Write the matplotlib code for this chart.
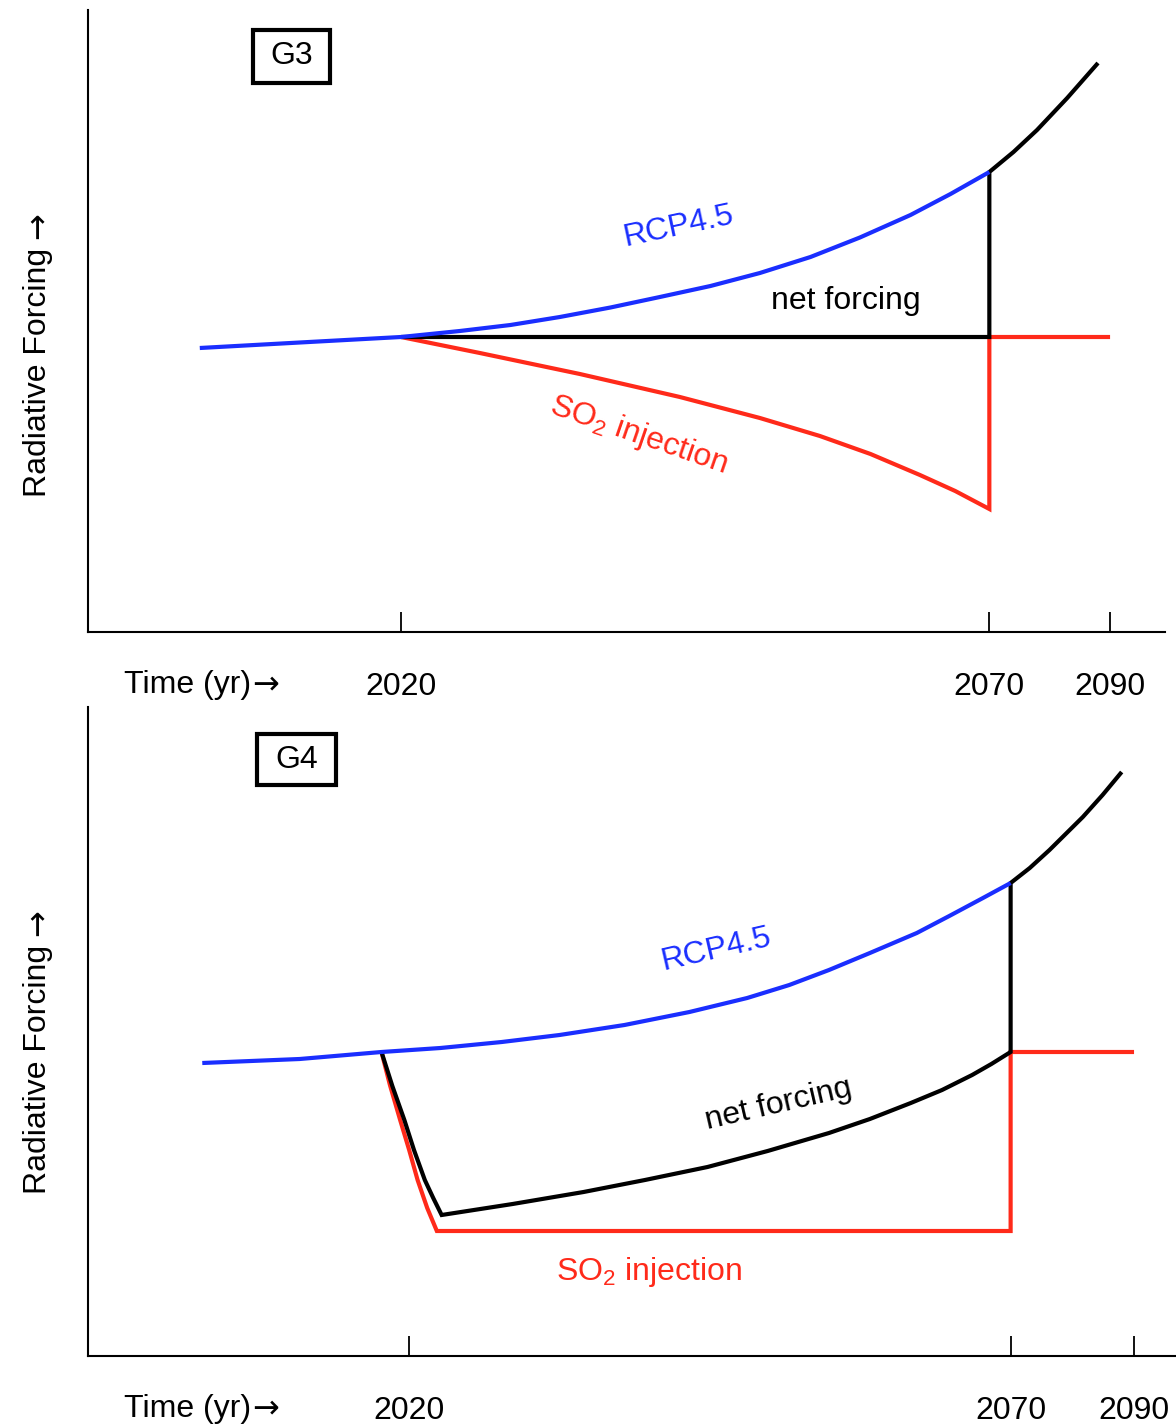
import numpy as np
import matplotlib
matplotlib.use("Agg")
import matplotlib.pyplot as plt
from matplotlib.patches import Rectangle
from matplotlib.ticker import NullLocator

plt.rcParams['font.family'] = ['Liberation Sans', 'DejaVu Sans']
plt.rcParams['mathtext.fontset'] = 'custom'
plt.rcParams['mathtext.rm'] = 'Liberation Sans'
plt.rcParams['mathtext.it'] = 'Liberation Sans:italic'
plt.rcParams['mathtext.bf'] = 'Liberation Sans:bold'

BLUE = '#1a2eff'
RED = '#ff2a1a'
BLACK = 'black'

# ---------------- G3 panel (schematic forcing, arbitrary units) ----------------
g3_rcp_years = [2002.9, 2011.4, 2020.0, 2025.0, 2029.3, 2033.5, 2037.8, 2042.0,
                2046.3, 2050.5, 2054.8, 2059.0, 2063.3, 2066.7, 2070.0]
g3_rcp_vals = [-0.11, -0.055, 0.00, 0.06, 0.12, 0.20, 0.295, 0.40,
               0.51, 0.64, 0.80, 0.995, 1.22, 1.43, 1.65]

g3_net_years = [2020.0, 2070.0, 2070.0, 2074.0, 2077.9, 2082.9, 2088.0]
g3_net_vals = [0.00, 0.00, 1.65, 1.85, 2.07, 2.39, 2.74]

g3_so2_years = [2020.0, 2026.7, 2035.2, 2043.7, 2050.5, 2055.6, 2059.9, 2064.1,
                2067.1, 2070.0, 2070.0, 2090.0]
g3_so2_vals = [0.00, -0.16, -0.37, -0.60, -0.81, -0.99, -1.17, -1.38,
               -1.54, -1.72, 0.00, 0.00]

# ---------------- G4 panel ----------------
g4_rcp_years = [2002.8, 2010.9, 2017.7, 2022.6, 2027.7, 2032.5, 2037.9, 2043.3,
                2048.1, 2051.6, 2054.9, 2058.3, 2062.2, 2064.9, 2067.7, 2070.0]
g4_rcp_vals = [-0.11, -0.07, 0.00, 0.04, 0.10, 0.17, 0.27, 0.40,
               0.54, 0.67, 0.82, 0.99, 1.19, 1.36, 1.54, 1.69]

g4_net_years = [2017.7, 2018.6, 2019.6, 2020.4, 2021.3, 2022.0, 2022.7, 2028.6,
                2034.5, 2039.6, 2044.8, 2049.8, 2054.9, 2058.3, 2061.7, 2064.3,
                2066.8, 2068.4, 2070.0, 2070.0, 2073.1, 2076.3, 2081.7, 2084.9,
                2088.0]
g4_net_vals = [0.00, -0.34, -0.68, -0.98, -1.28, -1.46, -1.63, -1.52,
               -1.40, -1.28, -1.15, -0.99, -0.81, -0.67, -0.51, -0.38,
               -0.23, -0.12, 0.00, 1.69, 1.84, 2.02, 2.35, 2.57,
               2.80]

g4_so2_years = [2017.7, 2018.4, 2019.25, 2020.0, 2020.7, 2021.5, 2022.3, 2070.0,
                2070.0, 2090.0]
g4_so2_vals = [0.00, -0.33, -0.68, -0.98, -1.28, -1.56, -1.79, -1.79,
               0.00, 0.00]

tick_years = [2020, 2070, 2090]
tick_labels = ['2020', '2070', '2090']
panel_names = ['G3', 'G4']

# schematic time axis: years after 2070 are drawn compressed
BREAK = 2070.0
LATE = 0.513


def fwd(x):
    x = np.asarray(x, dtype=float)
    return np.where(x <= BREAK, x, BREAK + (x - BREAK) * LATE)


def inv(x):
    x = np.asarray(x, dtype=float)
    return np.where(x <= BREAK, x, BREAK + (x - BREAK) / LATE)


W, H = 1176, 1424
fig = plt.figure(figsize=(W / 100, H / 100), dpi=100)

FS = 23
LW = 3.0
ARROW_FONT = ['DejaVu Sans']


def make_axes(l, r, t, b):
    ax = fig.add_axes([l / W, 1 - b / H, (r - l) / W, (b - t) / H])
    return ax, (l, r, t, b)


def frac(ext, px, py):
    l, r, t, b = ext
    return (px - l) / (r - l), (b - py) / (b - t)


def setup(ax, ext, xlim, ylim, name, box_px):
    ax.set_xscale('function', functions=(fwd, inv))
    ax.set_xlim(*xlim)
    ax.set_ylim(*ylim)
    for s in ['top', 'right']:
        ax.spines[s].set_visible(False)
    for s in ['left', 'bottom']:
        ax.spines[s].set_linewidth(1.5)
    ax.set_yticks([])
    ax.set_xticks(tick_years, tick_labels)
    ax.xaxis.set_minor_locator(NullLocator())
    ax.tick_params(axis='x', direction='in', length=14.5, width=1.3,
                   pad=28.5, labelsize=FS)
    # y label with arrow
    lx, ly = frac(ext, 38, ext[2] + (372 - 10))
    ylab = ax.text(lx, ly, 'Radiative Forcing', rotation=90, transform=ax.transAxes,
                   ha='center', va='center', fontsize=FS)
    ax.annotate('→', xy=(0.5, 1.0), xycoords=ylab, xytext=(0, 6),
                textcoords='offset points', rotation=90, ha='center', va='bottom',
                fontsize=FS, family=ARROW_FONT)
    # x label with arrow
    tx, ty = frac(ext, 124, ext[3] + 53)
    xlab = ax.text(tx, ty, 'Time (yr)', transform=ax.transAxes,
                   ha='left', va='center', fontsize=FS)
    ax.annotate('→', xy=(1.0, 0.5), xycoords=xlab, xytext=(0.5, 0),
                textcoords='offset points', ha='left', va='center',
                fontsize=FS, family=ARROW_FONT)
    # panel name box
    x0, x1, y0, y1 = box_px
    fx0, fy1 = frac(ext, x0, y0)
    fx1, fy0 = frac(ext, x1, y1)
    ax.add_patch(Rectangle((fx0, fy0), fx1 - fx0, fy1 - fy0, transform=ax.transAxes,
                           fill=False, edgecolor='black', linewidth=3.0,
                           joinstyle='miter', clip_on=False))
    ax.text((fx0 + fx1) / 2, (fy0 + fy1) / 2, name, transform=ax.transAxes,
            ha='center', va='center', fontsize=FS)


def draw(ax, years, vals, color):
    ax.plot(years, vals, color=color, lw=LW, solid_joinstyle='miter',
            solid_capstyle='butt', clip_on=False)


# ---------------- top panel ----------------
ax1, ext1 = make_axes(88, 1165, 10, 632)
setup(ax1, ext1, (1993.4, 2099.1), (-2.95, 3.27), panel_names[0],
      (253, 330, 30, 83))
draw(ax1, g3_so2_years, g3_so2_vals, RED)
draw(ax1, g3_net_years, g3_net_vals, BLACK)
draw(ax1, g3_rcp_years, g3_rcp_vals, BLUE)
ax1.text(2043.6, 1.10, 'RCP4.5', color=BLUE, fontsize=FS, rotation=12,
         rotation_mode='anchor', ha='center', va='center')
ax1.text(2057.8, 0.36, 'net forcing', color=BLACK, fontsize=FS,
         ha='center', va='center')
ax1.text(2040.2, -0.98, 'SO$_\\mathregular{2}$ injection', color=RED, fontsize=FS,
         rotation=-19, rotation_mode='anchor', ha='center', va='center')

# ---------------- bottom panel ----------------
ax2, ext2 = make_axes(88, 1176, 707, 1356)
setup(ax2, ext2, (1993.3, 2096.8), (-3.04, 3.45), panel_names[1],
      (257, 336, 734, 785))
draw(ax2, g4_so2_years, g4_so2_vals, RED)
draw(ax2, g4_net_years, g4_net_vals, BLACK)
draw(ax2, g4_rcp_years, g4_rcp_vals, BLUE)
ax2.text(2045.5, 1.02, 'RCP4.5', color=BLUE, fontsize=FS, rotation=13,
         rotation_mode='anchor', ha='center', va='center')
ax2.text(2050.7, -0.53, 'net forcing', color=BLACK, fontsize=FS, rotation=13,
         rotation_mode='anchor', ha='center', va='center')
ax2.text(2039.9, -2.20, 'SO$_\\mathregular{2}$ injection', color=RED, fontsize=FS,
         ha='center', va='center')

fig.savefig('out.png', dpi=100)
